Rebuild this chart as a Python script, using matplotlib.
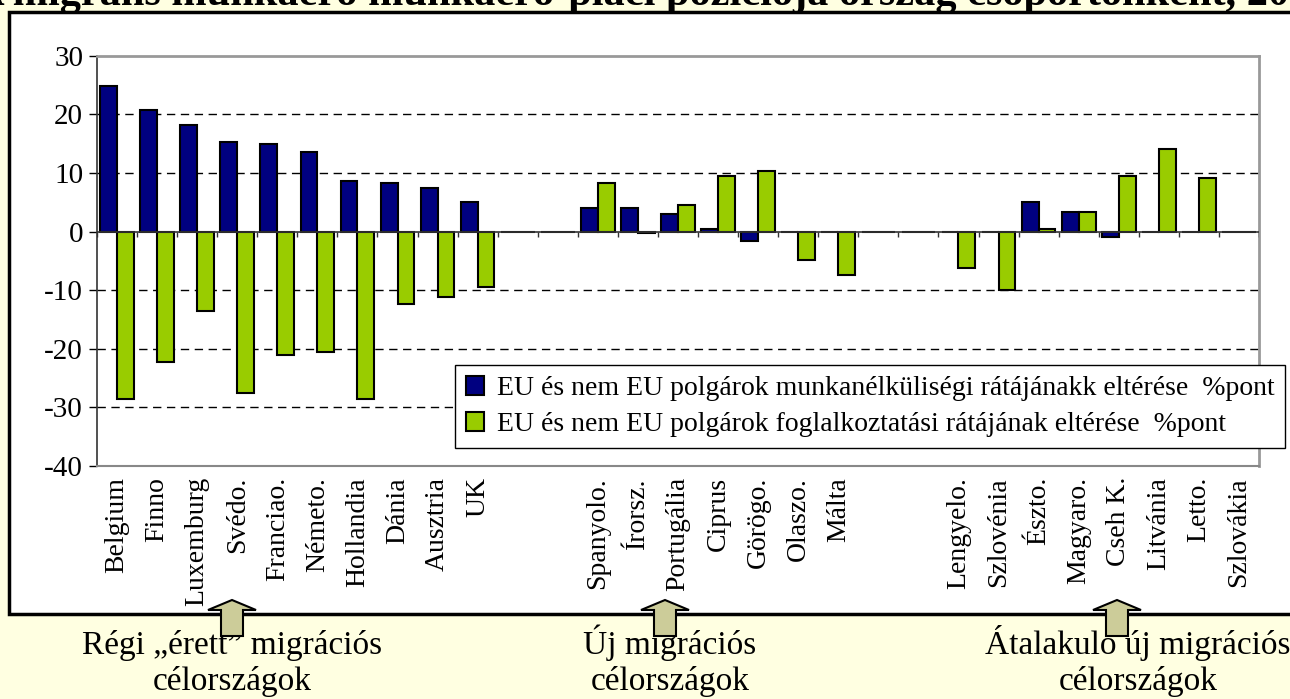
import numpy as np
import matplotlib
matplotlib.use("Agg")
import matplotlib.pyplot as plt
from matplotlib.patches import Rectangle, FancyArrow

plt.rcParams['font.family'] = ['Liberation Serif', 'DejaVu Serif']
plt.rcParams['axes.unicode_minus'] = False

# country labels (blank slots separate the three groups)
countries = ["Belgium", "Finno", "Luxemburg", "Svédo.", "Franciao.", "Németo.",
             "Hollandia", "Dánia", "Ausztria", "UK", "", "",
             "Spanyolo.", "Írorsz.", "Portugália", "Ciprus", "Görögo.", "Olaszo.",
             "Málta", "", "",
             "Lengyelo.", "Szlovénia", "Észto.", "Magyaro.", "Cseh K.", "Litvánia",
             "Letto.", "Szlovákia"]

# difference in unemployment rate (EU vs non-EU citizens), %point
unemp = [24.8, 20.7, 18.2, 15.3, 14.9, 13.6, 8.7, 8.3, 7.4, 5.0, 0, 0,
         4.1, 4.1, 3.0, 0.4, -1.6, 0, 0, 0, 0,
         0, 0, 5.0, 3.3, -0.9, 0, 0, 0]
# difference in employment rate, %point
employ = [-28.5, -22.3, -13.6, -27.6, -21.1, -20.6, -28.5, -12.3, -11.2, -9.5, 0, 0,
          8.3, -0.3, 4.6, 9.5, 10.3, -4.9, -7.4, 0, 0,
          -6.2, -9.9, 0.4, 3.3, 9.5, 14.1, 9.1, 0]

leg_labels = ["EU és nem EU polgárok munkanélküliségi rátájánakk eltérése  %pont",
              "EU és nem EU polgárok foglalkoztatási rátájának eltérése  %pont"]
title = "A migráns munkaerő munkaerő-piaci pozíciója ország csoportonként, 2005"
groups = [("Régi „érett” migrációs", "célországok"),
          ("Új migrációs", "célországok"),
          ("Átalakuló új migrációs", "célországok")]

W, H = 1290, 699
fig = plt.figure(figsize=(W / 100, H / 100), dpi=100)
fig.patch.set_facecolor('#FFFFE1')

# white framed panel behind the chart
fig.patches.append(Rectangle((9 / W, 1 - 614 / H), 1.05, (614 - 12) / H,
                             transform=fig.transFigure, facecolor='white',
                             edgecolor='black', lw=2.5, zorder=-2))

ax = fig.add_axes([97 / W, 1 - 466 / H, (1259 - 97) / W, (466 - 55.7) / H])
ax.set_zorder(1)
x = np.arange(len(countries))
w = 0.42
ax.bar(x - w / 2, unemp, w, color='#000080', edgecolor='black', lw=1.5,
       label=leg_labels[0], zorder=3)
ax.bar(x + w / 2, employ, w, color='#99CC00', edgecolor='black', lw=1.5,
       label=leg_labels[1], zorder=3)

ax.set_xlim(-0.5, len(countries) - 0.5)
ax.set_ylim(-40, 30)
ax.set_yticks(np.arange(-40, 31, 10))
for v in [-30, -20, -10, 10, 20]:
    ax.axhline(v, color='black', lw=1, dashes=(6, 4), zorder=1)
ax.axhline(0, color='#333333', lw=1.2, zorder=4)
ax.vlines(np.arange(len(countries) + 1) - 0.5, -0.9, 0, color='#333333', lw=1, zorder=4)

ax.set_xticks(x)
ax.set_xticklabels(countries, rotation=90, fontsize=20)
ax.tick_params(axis='x', length=0, pad=8)
ax.tick_params(axis='y', labelsize=21, length=6, width=1, direction='out', pad=4)
for lab in ax.get_xticklabels():
    lab.set_va('top')

for s in ['top', 'right']:
    ax.spines[s].set_color('#999999')
    ax.spines[s].set_linewidth(2)
ax.spines['bottom'].set_color('#888888')
ax.spines['bottom'].set_linewidth(1.5)
ax.spines['left'].set_color('#333333')
ax.spines['left'].set_linewidth(1.2)

leg = ax.legend(loc='upper left', bbox_to_anchor=(455 / W, 1 - 365 / H),
                bbox_transform=fig.transFigure, fontsize=20, frameon=True,
                fancybox=False, edgecolor='black', framealpha=1,
                handlelength=0.65, handleheight=0.65, handletextpad=0.45,
                borderpad=0.4, labelspacing=0.4, borderaxespad=0)
leg.get_frame().set_linewidth(1)

# title, its upper part falls outside the picture
fig.text(-26 / W, 1 - 5 / H, title, fontsize=30.5, fontweight='bold',
         ha='left', va='baseline', zorder=3)

# group arrows and captions
for cx, tx, (l1, l2) in zip([232, 665, 1117], [232, 670, 1138], groups):
    fig.patches.append(FancyArrow(cx / 100, (H - 636) / 100, 0, 36 / 100,
                                  width=0.22, head_width=0.48, head_length=0.10,
                                  length_includes_head=True,
                                  transform=fig.dpi_scale_trans,
                                  facecolor='#CCCC99', edgecolor='black', lw=1.5,
                                  zorder=5))
    fig.text(tx / W, 1 - 654 / H, l1, fontsize=24, ha='center', va='baseline')
    fig.text(tx / W, 1 - 690 / H, l2, fontsize=24, ha='center', va='baseline')

fig.savefig('out.png', dpi=100, facecolor=fig.get_facecolor())
